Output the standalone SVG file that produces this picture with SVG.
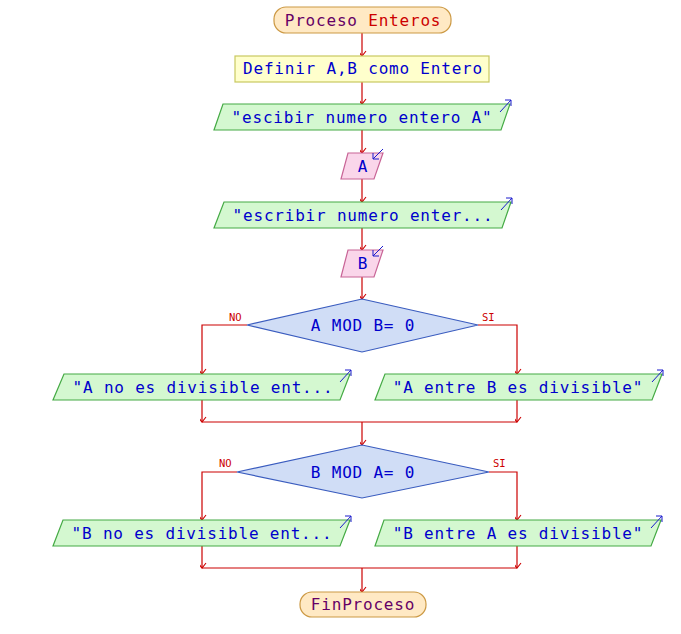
<svg xmlns="http://www.w3.org/2000/svg" width="681" height="634" viewBox="0 0 681 634">
<defs>
<style>
.t{font-family:"DejaVu Sans Mono","Liberation Mono",monospace;font-size:16px;letter-spacing:0.8px;fill:#0000cc;text-anchor:middle}
.term{fill:#ffe9c4;stroke:#cc9944;stroke-width:1.2}
.def{fill:#ffffcc;stroke:#c8c860;stroke-width:1.2}
.out{fill:#d4f8d0;stroke:#44aa44;stroke-width:1.2}
.inp{fill:#fad6ea;stroke:#c86496;stroke-width:1.2}
.dec{fill:#d0ddf6;stroke:#3a5cbf;stroke-width:1.2}
.c{fill:none;stroke:#cc0000;stroke-width:1.2}
.lbl{font-family:"DejaVu Sans Mono","Liberation Mono",monospace;font-size:10.5px;fill:#cc0000}
.ico{fill:none;stroke:#1a1acc;stroke-width:1}
</style>
<marker id="ar" viewBox="-6 -7 12 9" refX="0" refY="0" markerWidth="12" markerHeight="9" markerUnits="userSpaceOnUse" orient="auto-start-reverse">
<path d="M-5,-4 L0,0 L-5,4" fill="none" stroke="#cc0000" stroke-width="1.1"/>
</marker>
</defs>
<rect width="681" height="634" fill="#ffffff"/>
<g id="connectors">
<line class="c" x1="362" y1="33" x2="362" y2="56" marker-end="url(#ar)"/>
<line class="c" x1="362" y1="82" x2="362" y2="104" marker-end="url(#ar)"/>
<line class="c" x1="362" y1="130" x2="362" y2="153" marker-end="url(#ar)"/>
<line class="c" x1="362" y1="179" x2="362" y2="202" marker-end="url(#ar)"/>
<line class="c" x1="362" y1="228" x2="362" y2="250" marker-end="url(#ar)"/>
<line class="c" x1="362" y1="277" x2="362" y2="299" marker-end="url(#ar)"/>
<polyline class="c" points="247,325 202,325 202,374" marker-end="url(#ar)"/>
<polyline class="c" points="478,325 517,325 517,374" marker-end="url(#ar)"/>
<line class="c" x1="202" y1="400" x2="202" y2="422" marker-end="url(#ar)"/>
<line class="c" x1="517" y1="400" x2="517" y2="422" marker-end="url(#ar)"/>
<line class="c" x1="202" y1="422" x2="517" y2="422"/>
<line class="c" x1="362" y1="422" x2="362" y2="445" marker-end="url(#ar)"/>
<polyline class="c" points="237,472 202,472 202,520" marker-end="url(#ar)"/>
<polyline class="c" points="489,472 517,472 517,520" marker-end="url(#ar)"/>
<line class="c" x1="202" y1="546" x2="202" y2="568" marker-end="url(#ar)"/>
<line class="c" x1="517" y1="546" x2="517" y2="568" marker-end="url(#ar)"/>
<line class="c" x1="202" y1="568" x2="517" y2="568"/>
<line class="c" x1="362" y1="568" x2="362" y2="592" marker-end="url(#ar)"/>
<text class="lbl" x="229" y="321">NO</text>
<text class="lbl" x="482" y="321">SI</text>
<text class="lbl" x="219" y="467">NO</text>
<text class="lbl" x="493" y="467">SI</text>
</g>
<g id="start">
<rect class="term" x="274" y="7" width="177" height="26" rx="12"/>
<text class="t" x="363" y="26"><tspan fill="#660066">Proceso</tspan> <tspan fill="#cc0000">Enteros</tspan></text>
</g>
<g id="define">
<rect class="def" x="235" y="56" width="254" height="26"/>
<text class="t" x="363" y="74">Definir A,B como Entero</text>
</g>
<g id="out1">
<polygon class="out" points="223,104 510,104 501,130 214,130"/>
<path class="ico" d="M500,112 L511,100 M505,100 L511,100 L511,106"/>
<text class="t" x="362" y="123">"escibir numero entero A"</text>
</g>
<g id="inA">
<polygon class="inp" points="348,153 383,153 374,179 341,179"/>
<path class="ico" d="M383,149 L373,159 M373,153 L373,159 L379,159"/>
<text class="t" x="363" y="172">A</text>
</g>
<g id="out2">
<polygon class="out" points="224,202 511,202 502,228 214,228"/>
<path class="ico" d="M501,210 L512,198 M506,198 L512,198 L512,204"/>
<text class="t" x="363" y="221">"escribir numero enter...</text>
</g>
<g id="inB">
<polygon class="inp" points="348,250 383,250 374,277 341,277"/>
<path class="ico" d="M383,246 L373,256 M373,250 L373,256 L379,256"/>
<text class="t" x="363" y="269">B</text>
</g>
<g id="dec1">
<polygon class="dec" points="362,299 478,325 362,352 247,325"/>
<text class="t" x="363" y="331">A MOD B= 0</text>
</g>
<g id="outNo1">
<polygon class="out" points="64,374 350,374 340,400 53,400"/>
<path class="ico" d="M340,382 L351,370 M345,370 L351,370 L351,376"/>
<text class="t" x="203" y="393">"A no es divisible ent...</text>
</g>
<g id="outSi1">
<polygon class="out" points="385,374 662,374 652,400 375,400"/>
<path class="ico" d="M652,382 L663,370 M657,370 L663,370 L663,376"/>
<text class="t" x="518" y="393">"A entre B es divisible"</text>
</g>
<g id="dec2">
<polygon class="dec" points="362,445 489,472 362,498 237,472"/>
<text class="t" x="363" y="478">B MOD A= 0</text>
</g>
<g id="outNo2">
<polygon class="out" points="63,520 350,520 340,546 53,546"/>
<path class="ico" d="M340,528 L351,516 M345,516 L351,516 L351,522"/>
<text class="t" x="202" y="539">"B no es divisible ent...</text>
</g>
<g id="outSi2">
<polygon class="out" points="384,520 661,520 651,546 375,546"/>
<path class="ico" d="M651,528 L662,516 M656,516 L662,516 L662,522"/>
<text class="t" x="518" y="539">"B entre A es divisible"</text>
</g>
<g id="end">
<rect class="term" x="300" y="592" width="126" height="25" rx="12"/>
<text class="t" x="363" y="610" style="fill:#660066">FinProceso</text>
</g>
</svg>
